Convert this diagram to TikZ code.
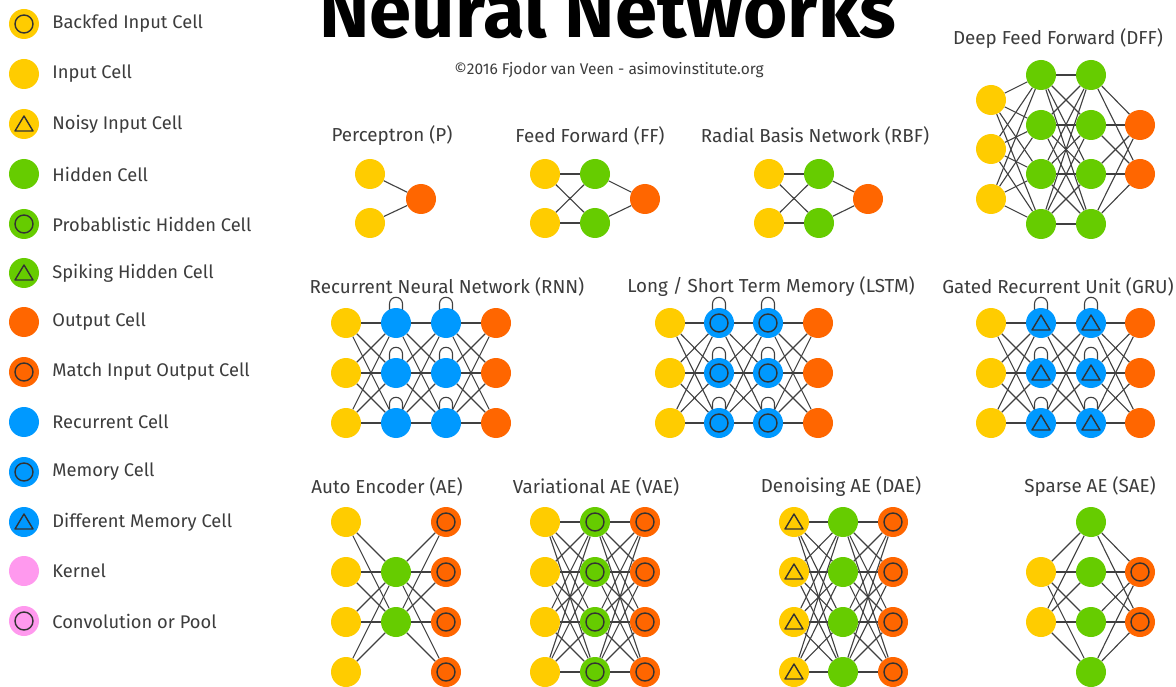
\documentclass[tikz,border=0pt]{standalone}
\usepackage{fontspec}
\setmainfont{Fira Sans}
\usetikzlibrary{positioning,backgrounds}
\definecolor{inyellow}{HTML}{FFCC00}
\definecolor{hidgreen}{HTML}{66CC00}
\definecolor{outorange}{HTML}{FF6600}
\definecolor{recblue}{HTML}{0099FF}
\definecolor{kerpink}{HTML}{FF99EE}
\definecolor{textgray}{HTML}{3C3C3C}
\tikzset{
    cell/.style = {
        shape=circle,
        minimum size=30pt,
        inner sep=0pt
    },
    input/.style = {cell, fill=inyellow},
    hidden/.style = {cell, fill=hidgreen},
    output/.style = {cell, fill=outorange},
    recur/.style = {cell, fill=recblue},
    kernel/.style = {cell, fill=kerpink},
    ringed/.style = {
        path picture={\draw[line width=1.4pt, black!80]
            (path picture bounding box.center) circle (9pt);}
    },
    tri/.style = {
        path picture={\draw[line width=1.4pt, black!80, line join=round]
            ([shift={(0pt,8pt)}]path picture bounding box.center)
            -- ([shift={(-9pt,-7pt)}]path picture bounding box.center)
            -- ([shift={(9pt,-7pt)}]path picture bounding box.center) -- cycle;}
    },
    backfed/.style = {input, ringed},
    noisy/.style = {input, tri},
    prob/.style = {hidden, ringed},
    spiking/.style = {hidden, tri},
    match/.style = {output, ringed},
    memory/.style = {recur, ringed},
    diffmem/.style = {recur, tri},
    conv/.style = {kernel, ringed},
    link/.style = {draw, black!75, line width=1.1pt},
    legend/.style = {
        text=textgray,
        font=\fontsize{18.3}{20}\selectfont,
        inner sep=0pt
    },
    netname/.style = {
        text=textgray,
        font=\fontsize{18.8}{20}\selectfont,
        inner sep=0pt
    },
}

\begin{document}
\begin{tikzpicture}[x=1pt, y=-1pt]
                \useasboundingbox (0,0) rectangle (1176,687);

                % legend
                \node[backfed] (lg1) at (24,24) {};
                \node[legend, right=13pt of lg1] (lt1) {Backfed Input Cell};
                \node[input] (lg2) at (24,74) {};
                \node[legend, right=13pt of lg2] (lt2) {Input Cell};
                \node[noisy] (lg3) at (24,124) {};
                \node[legend, right=13pt of lg3] (lt3) {Noisy Input Cell};
                \node[hidden] (lg4) at (24,174) {};
                \node[legend, right=13pt of lg4] (lt4) {Hidden Cell};
                \node[prob] (lg5) at (24,224) {};
                \node[legend, right=13pt of lg5] (lt5) {Probablistic Hidden Cell};
                \node[spiking] (lg6) at (24,273) {};
                \node[legend, right=13pt of lg6] (lt6) {Spiking Hidden Cell};
                \node[output] (lg7) at (24,322) {};
                \node[legend, right=13pt of lg7] (lt7) {Output Cell};
                \node[match] (lg8) at (24,372) {};
                \node[legend, right=13pt of lg8] (lt8) {Match Input Output Cell};
                \node[recur] (lg9) at (24,422) {};
                \node[legend, right=13pt of lg9] (lt9) {Recurrent Cell};
                \node[memory] (lg10) at (24,472) {};
                \node[legend, right=13pt of lg10] (lt10) {Memory Cell};
                \node[diffmem] (lg11) at (24,522) {};
                \node[legend, right=13pt of lg11] (lt11) {Different Memory Cell};
                \node[kernel] (lg12) at (24,571) {};
                \node[legend, right=13pt of lg12] (lt12) {Kernel};
                \node[conv] (lg13) at (24,621) {};
                \node[legend, right=13pt of lg13] (lt13) {Convolution or Pool};

                % heading
                \node[font=\fontsize{76}{80}\selectfont\bfseries, inner sep=0pt, anchor=base] (title) at (608,38) {Neural Networks};
                \node[text=textgray, font=\fontsize{15.5}{17}\selectfont, inner sep=0pt] (credit) at (609,70) {©2016 Fjodor van Veen - asimovinstitute.org};

                % perceptron
                \node[netname] (p_name) at (392,136) {Perceptron (P)};
                \node[input] (p_i1) at (370,174) {};
                \node[input] (p_i2) at (370,223) {};
                \node[output] (p_o1) at (421,199) {};

                % feed forward
                \node[netname] (ff_name) at (590,136) {Feed Forward (FF)};
                \node[input] (ff_i1) at (545,174) {};
                \node[input] (ff_i2) at (545,223) {};
                \node[hidden] (ff_h1) at (595,174) {};
                \node[hidden] (ff_h2) at (595,223) {};
                \node[output] (ff_o1) at (645,199) {};

                % radial basis
                \node[netname] (rbf_name) at (815,136) {Radial Basis Network (RBF)};
                \node[input] (rbf_i1) at (769,174) {};
                \node[input] (rbf_i2) at (769,223) {};
                \node[hidden] (rbf_h1) at (819,174) {};
                \node[hidden] (rbf_h2) at (819,223) {};
                \node[output] (rbf_o1) at (868,199) {};

                % deep feed forward
                \node[netname] (dff_name) at (1058,39) {Deep Feed Forward (DFF)};
                \foreach \r/\y in {1/100,2/149,3/199}
                    \node[input] (dff_i\r) at (991,\y) {};
                \foreach \r/\y in {1/75,2/125,3/174,4/224} {
                    \node[hidden] (dff_a\r) at (1041,\y) {};
                    \node[hidden] (dff_b\r) at (1091,\y) {};
                }
                \node[output] (dff_o1) at (1140,125) {};
                \node[output] (dff_o2) at (1140,174) {};

                % recurrent rows
                \node[netname] (rnn_name) at (447,287) {Recurrent Neural Network (RNN)};
                \node[netname] (lstm_name) at (771,287) {Long / Short Term Memory (LSTM)};
                \node[netname] (gru_name) at (1058,287) {Gated Recurrent Unit (GRU)};
                \foreach \r/\y in {1/323,2/373,3/423} {
                    \node[input] (rnn_i\r) at (346,\y) {};
                    \node[recur] (rnn_a\r) at (396,\y) {};
                    \node[recur] (rnn_b\r) at (446,\y) {};
                    \node[output] (rnn_o\r) at (496,\y) {};
                    \node[input] (lstm_i\r) at (670,\y) {};
                    \node[memory] (lstm_a\r) at (719,\y) {};
                    \node[memory] (lstm_b\r) at (768,\y) {};
                    \node[output] (lstm_o\r) at (818,\y) {};
                    \node[input] (gru_i\r) at (991,\y) {};
                    \node[diffmem] (gru_a\r) at (1041,\y) {};
                    \node[diffmem] (gru_b\r) at (1091,\y) {};
                    \node[output] (gru_o\r) at (1140,\y) {};
                }

                % auto encoders
                \node[netname] (ae_name) at (387,487) {Auto Encoder (AE)};
                \node[netname] (vae_name) at (596,487) {Variational AE (VAE)};
                \node[netname] (dae_name) at (841,487) {Denoising AE (DAE)};
                \node[netname] (sae_name) at (1090,487) {Sparse AE (SAE)};
                \foreach \r/\y in {1/522,2/572,3/622,4/672} {
                    \node[input] (ae_i\r) at (346,\y) {};
                    \node[match] (ae_o\r) at (446,\y) {};
                    \node[input] (vae_i\r) at (545,\y) {};
                    \node[prob] (vae_h\r) at (595,\y) {};
                    \node[match] (vae_o\r) at (645,\y) {};
                    \node[noisy] (dae_i\r) at (794,\y) {};
                    \node[hidden] (dae_h\r) at (843,\y) {};
                    \node[match] (dae_o\r) at (893,\y) {};
                    \node[hidden] (sae_h\r) at (1091,\y) {};
                }
                \node[hidden] (ae_h1) at (396,572) {};
                \node[hidden] (ae_h2) at (396,622) {};
                \node[input] (sae_i1) at (1041,572) {};
                \node[input] (sae_i2) at (1041,622) {};
                \node[match] (sae_o1) at (1140,572) {};
                \node[match] (sae_o2) at (1140,622) {};

                \begin{scope}[on background layer]
                \fill[white] (0,0) rectangle (1176,687);

                \path[link] (p_i1) -- (p_o1);
                \path[link] (p_i2) -- (p_o1);
                \foreach \s in {1,2} {
                    \path[link] (ff_h\s) -- (ff_o1);
                    \path[link] (rbf_h\s) -- (rbf_o1);
                    \foreach \t in {1,2} {
                        \path[link] (ff_i\s) -- (ff_h\t);
                        \path[link] (rbf_i\s) -- (rbf_h\t);
                        \path[link] (sae_i\s) -- (sae_h\t);
                        \path[link] (sae_i\s) -- (sae_h\the\numexpr\t+2\relax);
                        \path[link] (sae_h\t) -- (sae_o\s);
                        \path[link] (sae_h\the\numexpr\t+2\relax) -- (sae_o\s);
                    }
                }
                \foreach \s in {1,...,4} {
                    \path[link] (dff_b\s) -- (dff_o1);
                    \path[link] (dff_b\s) -- (dff_o2);
                    \path[link] (ae_i\s) -- (ae_h1);
                    \path[link] (ae_i\s) -- (ae_h2);
                    \path[link] (ae_h1) -- (ae_o\s);
                    \path[link] (ae_h2) -- (ae_o\s);
                    \foreach \t in {1,...,4} {
                        \path[link] (dff_a\s) -- (dff_b\t);
                        \path[link] (vae_i\s) -- (vae_h\t);
                        \path[link] (vae_h\s) -- (vae_o\t);
                        \path[link] (dae_i\s) -- (dae_h\t);
                        \path[link] (dae_h\s) -- (dae_o\t);
                    }
                }
                \foreach \s in {1,2,3} {
                    \foreach \t in {1,...,4}
                        \path[link] (dff_i\s) -- (dff_a\t);
                    \foreach \t in {1,2,3} {
                        \path[link] (rnn_i\s) -- (rnn_a\t);
                        \path[link] (rnn_a\s) -- (rnn_b\t);
                        \path[link] (rnn_b\s) -- (rnn_o\t);
                        \path[link] (lstm_i\s) -- (lstm_a\t);
                        \path[link] (lstm_a\s) -- (lstm_b\t);
                        \path[link] (lstm_b\s) -- (lstm_o\t);
                        \path[link] (gru_i\s) -- (gru_a\t);
                        \path[link] (gru_a\s) -- (gru_b\t);
                        \path[link] (gru_b\s) -- (gru_o\t);
                    }
                    % self loops
                    \foreach \n in {rnn_a,rnn_b,lstm_a,lstm_b,gru_a,gru_b}
                        \path[link] ([shift={(-6.5pt,-3pt)}]\n\s.north) -- ++(0pt,7pt)
                            arc[start angle=180, end angle=0, radius=6.5pt] -- ++(0pt,-7pt);
                }
                \end{scope}
            \end{tikzpicture}
\end{document}
